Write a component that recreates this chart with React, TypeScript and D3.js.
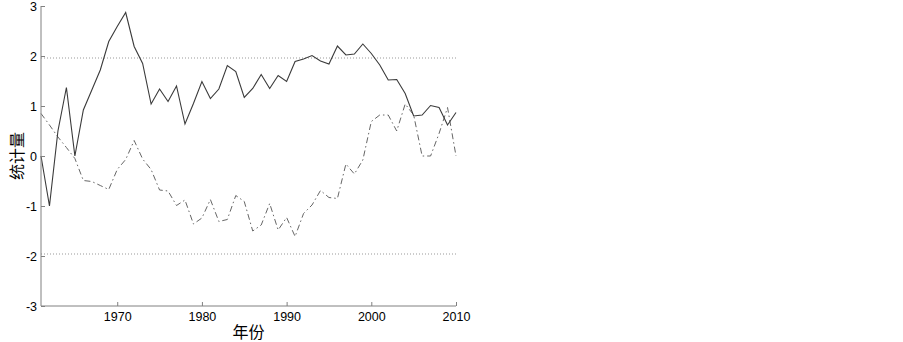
import React, { useEffect, useRef } from 'react';
import * as d3 from 'd3';

const years = d3.range(1961, 2011);

// UF statistic (solid line)
const ufValues = [
  0.0, -1.0, 0.5, 1.37, 0.0, 0.92, 1.32, 1.72, 2.29, 2.59,
  2.87, 2.19, 1.85, 1.04, 1.34, 1.09, 1.4, 0.64, 1.05, 1.49,
  1.15, 1.34, 1.81, 1.69, 1.17, 1.35, 1.63, 1.35, 1.61, 1.49,
  1.89, 1.94, 2.01, 1.9, 1.84, 2.2, 2.02, 2.04, 2.24, 2.05,
  1.82, 1.52, 1.53, 1.25, 0.8, 0.82, 1.01, 0.97, 0.62, 0.87,
];

// UB statistic (dash-dot line)
const ubValues = [
  0.85, 0.62, 0.38, 0.17, -0.05, -0.49, -0.51, -0.59, -0.67, -0.27,
  -0.07, 0.31, -0.06, -0.27, -0.68, -0.7, -0.99, -0.88, -1.36, -1.24,
  -0.87, -1.31, -1.27, -0.79, -0.91, -1.5, -1.38, -0.95, -1.48, -1.23,
  -1.61, -1.15, -0.98, -0.69, -0.83, -0.85, -0.16, -0.36, -0.08, 0.69,
  0.82, 0.82, 0.5, 1.04, 0.82, 0.0, 0.0, 0.45, 0.97, 0.0,
];

const yTicks = [-3, -2, -1, 0, 1, 2, 3];
const xTicks = [1970, 1980, 1990, 2000, 2010];
const critical = [1.96, -1.96];

const App = () => {
  const ref = useRef<SVGSVGElement>(null);

  useEffect(() => {
    const svg = d3.select(ref.current);
    svg.selectAll('*').remove();

    const x = d3.scaleLinear().domain([1961, 2010]).range([41, 456]);
    const y = d3.scaleLinear().domain([-3, 3]).range([306, 6]);
    const font = 'Liberation Sans, Arial, sans-serif';
    const axisColor = '#808080';

    // critical value lines
    critical.forEach(c => {
      svg.append('line')
        .attr('x1', x(1961)).attr('x2', x(2010))
        .attr('y1', y(c)).attr('y2', y(c))
        .attr('stroke', '#999')
        .attr('stroke-width', 1)
        .attr('stroke-dasharray', '1,2');
    });

    const line = d3.line<number>()
      .x((_, i) => x(years[i]))
      .y(d => y(d));

    svg.append('path')
      .datum(ubValues)
      .attr('fill', 'none')
      .attr('stroke', '#666')
      .attr('stroke-width', 1)
      .attr('stroke-dasharray', '6,3,1.5,3')
      .attr('d', line);

    svg.append('path')
      .datum(ufValues)
      .attr('fill', 'none')
      .attr('stroke', '#3a3a3a')
      .attr('stroke-width', 1.1)
      .attr('d', line);

    // left axis
    const yAxis = svg.append('g')
      .attr('transform', `translate(${x(1961)},0)`)
      .call(d3.axisLeft(y).tickValues(yTicks).tickSize(-4).tickPadding(4).tickFormat(d => String(d)));
    yAxis.select('.domain').attr('stroke', axisColor).attr('d', `M0,${y(3)}V${y(-3)}`);
    yAxis.selectAll('.tick line').attr('stroke', axisColor);
    yAxis.selectAll('text').attr('font-family', font).attr('font-size', 12.5).attr('fill', '#000');

    // bottom axis
    const xAxis = svg.append('g')
      .attr('transform', `translate(0,${y(-3)})`)
      .call(d3.axisBottom(x).tickValues(xTicks).tickSize(-4).tickPadding(6).tickFormat(d => String(d)));
    xAxis.select('.domain').attr('stroke', axisColor).attr('d', `M${x(1961)},0H${x(2010)}`);
    xAxis.selectAll('.tick line').attr('stroke', axisColor);
    xAxis.selectAll('text').attr('font-family', font).attr('font-size', 12.5).attr('fill', '#000');

    svg.append('text')
      .attr('x', (x(1961) + x(2010)) / 2)
      .attr('y', 338)
      .attr('text-anchor', 'middle')
      .attr('font-family', 'Noto Sans CJK SC')
      .attr('font-size', 16)
      .text('年份');

    svg.append('text')
      .attr('transform', `translate(23,${y(0)}) rotate(-90)`)
      .attr('text-anchor', 'middle')
      .attr('font-family', 'Noto Sans CJK SC')
      .attr('font-size', 16)
      .text('统计量');
  }, []);

  return (
    <svg ref={ref} width={903} height={342}
      style={{ position: 'absolute', left: 0, top: 0, background: '#fff' }} />
  );
};

export default App;
